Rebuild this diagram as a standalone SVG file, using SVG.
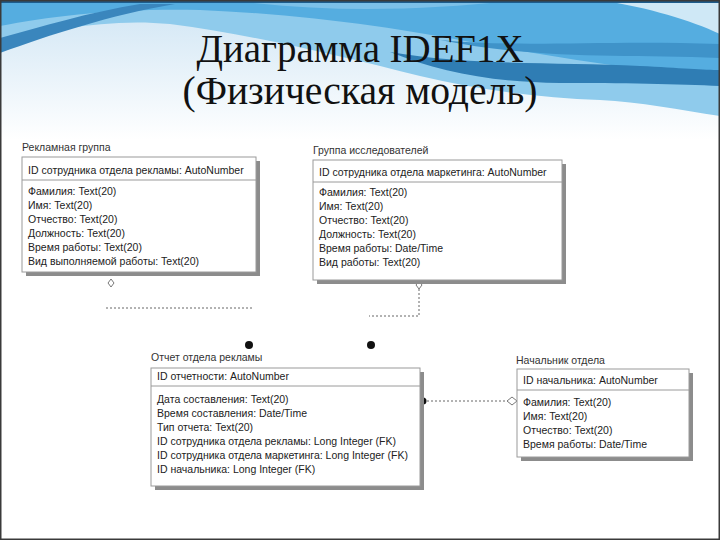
<svg xmlns="http://www.w3.org/2000/svg" width="720" height="540" viewBox="0 0 720 540">
<defs>
<linearGradient id="pale" x1="0" y1="0" x2="0" y2="1">
<stop offset="0" stop-color="#cfe5f4"/>
<stop offset="1" stop-color="#ffffff"/>
</linearGradient>
<style>
.ttl{font-size:40px;fill:#111;text-anchor:middle}
.lbl{font-family:"Liberation Sans",Arial,sans-serif;font-size:10.5px;fill:#333}
.txt{font-family:"Liberation Sans",Arial,sans-serif;font-size:10.5px;fill:#222}
.box{fill:#fff;stroke:#9a9a9a;stroke-width:1}
.shd{fill:#8c8c8c}
.sep{stroke:#9a9a9a;stroke-width:1}
.dash{fill:none;stroke:#666;stroke-width:1;stroke-dasharray:2 2}
.dot{fill:#111}
.dia{fill:#fff;stroke:#777;stroke-width:1}
</style>
</defs>
<rect width="720" height="540" fill="#fff"/>
<g id="background">
<rect x="0" y="0" width="720" height="140" fill="url(#pale)"/>
<path d="M0,0 H720 V116 C680,110 640,102 600,100 C540,98 480,90 420,76 C340,56 260,36 170,24 C110,18 50,30 0,42 Z" fill="#8fcbec"/>
<path d="M0,0 H720 V78 C650,72 560,58 480,44 C400,28 300,14 200,10 C120,8 50,16 0,26 Z" fill="#55ade0"/>
<path d="M0,38 C40,27 90,12 140,4 L175,4 C110,15 50,35 0,53 Z" fill="#3a86bd"/>
<path d="M390,52 C470,66 560,62 640,66 C680,68 705,70 720,70 V86 C680,84 620,83 560,83 C490,82 440,72 390,52 Z" fill="#2f7db4"/>
<path d="M440,40 C520,48 600,40 720,44 V58 C620,54 540,60 440,40 Z" fill="#3f93c9"/>
<path d="M600,0 H720 V34 C690,20 650,8 600,0 Z" fill="#cfe8f6"/>
<path d="M230,0 H520 C430,10 330,14 230,0 Z" fill="#7cc0e8"/>
<rect x="0" y="0" width="720" height="3" fill="#1d5c8c"/>
</g>
<g id="title" font-family="'Liberation Serif', 'DejaVu Serif', 'Times New Roman', serif">
<text class="ttl" x="360" y="62" textLength="327" lengthAdjust="spacingAndGlyphs">Диаграмма IDEF1X</text>
<text class="ttl" x="360" y="104" textLength="355" lengthAdjust="spacingAndGlyphs">(Физическая модель)</text>
</g>
<g id="connectors">
<path class="dia" d="M111,279 L114,283 L111,287 L108,283 Z"/>
<line class="dash" x1="106" y1="308" x2="254" y2="308"/>
<circle class="dot" cx="249" cy="345" r="4"/>
<path class="dia" d="M419,281 L422,285 L419,289 L416,285 Z"/>
<polyline class="dash" points="419,289 419,316 369,316"/>
<circle class="dot" cx="371" cy="345" r="4"/>
<line class="dash" x1="427" y1="401" x2="508" y2="401"/>
<circle class="dot" cx="423" cy="401" r="3.5"/>
<path class="dia" d="M507,401 L512,397 L517,401 L512,405 Z"/>
</g>
<g id="reklamnaya-gruppa">
<text class="lbl" x="22" y="151">Рекламная группа</text>
<rect class="shd" x="26" y="161" width="234" height="115"/>
<rect class="box" x="22" y="157" width="234" height="115"/>
<line class="sep" x1="22" y1="180" x2="256" y2="180"/>
<text class="txt" x="28" y="174">ID сотрудника отдела рекламы: AutoNumber</text>
<text class="txt" x="28" y="195">Фамилия: Text(20)</text>
<text class="txt" x="28" y="209">Имя: Text(20)</text>
<text class="txt" x="28" y="223">Отчество: Text(20)</text>
<text class="txt" x="28" y="237">Должность: Text(20)</text>
<text class="txt" x="28" y="251">Время работы: Text(20)</text>
<text class="txt" x="28" y="265">Вид выполняемой работы: Text(20)</text>
</g>
<g id="gruppa-issledovateley">
<text class="lbl" x="313" y="154">Группа исследователей</text>
<rect class="shd" x="317" y="164" width="249" height="120"/>
<rect class="box" x="313" y="160" width="249" height="120"/>
<line class="sep" x1="313" y1="182" x2="562" y2="182"/>
<text class="txt" x="319" y="176">ID сотрудника отдела маркетинга: AutoNumber</text>
<text class="txt" x="319" y="196">Фамилия: Text(20)</text>
<text class="txt" x="319" y="210">Имя: Text(20)</text>
<text class="txt" x="319" y="224">Отчество: Text(20)</text>
<text class="txt" x="319" y="238">Должность: Text(20)</text>
<text class="txt" x="319" y="252">Время работы: Date/Time</text>
<text class="txt" x="319" y="266">Вид работы: Text(20)</text>
</g>
<g id="otchet-otdela-reklamy">
<text class="lbl" x="151" y="361">Отчет отдела рекламы</text>
<rect class="shd" x="155" y="372" width="269" height="118"/>
<rect class="box" x="151" y="368" width="269" height="118"/>
<line class="sep" x1="151" y1="386" x2="420" y2="386"/>
<text class="txt" x="157" y="380">ID отчетности: AutoNumber</text>
<text class="txt" x="157" y="403">Дата составления: Text(20)</text>
<text class="txt" x="157" y="417">Время составления: Date/Time</text>
<text class="txt" x="157" y="431">Тип отчета: Text(20)</text>
<text class="txt" x="157" y="445">ID сотрудника отдела рекламы: Long Integer (FK)</text>
<text class="txt" x="157" y="459">ID сотрудника отдела маркетинга: Long Integer (FK)</text>
<text class="txt" x="157" y="473">ID начальника: Long Integer (FK)</text>
</g>
<g id="nachalnik-otdela">
<text class="lbl" x="516" y="364">Начальник отдела</text>
<rect class="shd" x="521" y="373" width="172" height="88"/>
<rect class="box" x="517" y="369" width="172" height="88"/>
<line class="sep" x1="517" y1="390" x2="689" y2="390"/>
<text class="txt" x="523" y="384">ID начальника: AutoNumber</text>
<text class="txt" x="523" y="406">Фамилия: Text(20)</text>
<text class="txt" x="523" y="420">Имя: Text(20)</text>
<text class="txt" x="523" y="434">Отчество: Text(20)</text>
<text class="txt" x="523" y="448">Время работы: Date/Time</text>
</g>
<rect x="0.75" y="0.75" width="718.5" height="538.5" fill="none" stroke="#3a3a3a" stroke-width="1.5"/>
</svg>
